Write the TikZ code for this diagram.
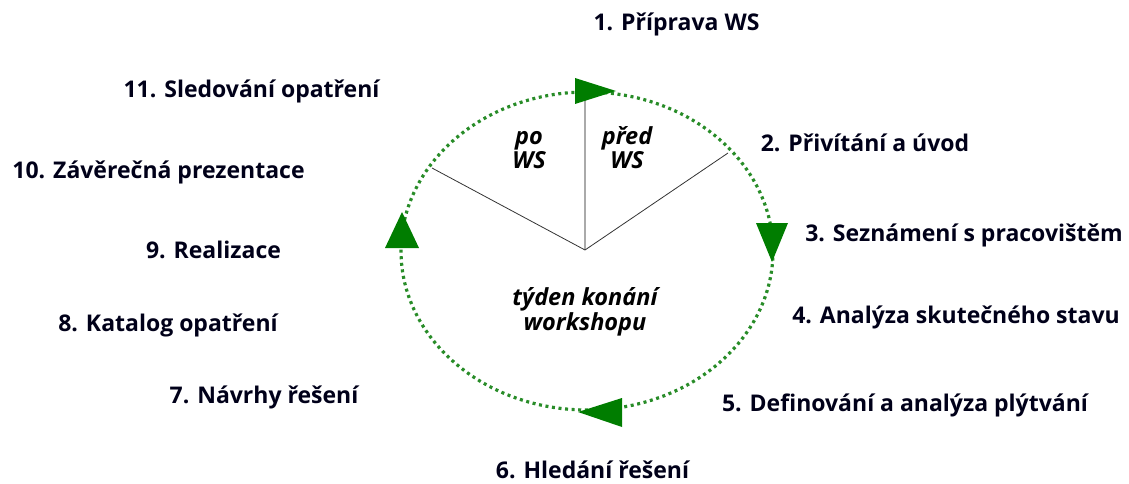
\documentclass[tikz,border=0pt]{standalone}
\usepackage{fontspec}
\setmainfont{Open Sans}
\definecolor{dotgreen}{RGB}{40,140,40}
\definecolor{arrgreen}{RGB}{0,125,0}
\definecolor{spokegray}{RGB}{170,170,170}
\begin{document}
\begin{tikzpicture}[x=1pt,y=-1pt,
  lbl/.style={anchor=base,inner sep=0pt,font=\fontsize{23}{26}\selectfont\bfseries,text=black!90!blue},
  inlbl/.style={anchor=base,inner sep=0pt,align=center,font=\fontsize{23.5}{27}\selectfont\bfseries\itshape},
  ring/.style={draw=dotgreen,line width=3.2pt,dash pattern=on 3pt off 3.6pt},
  tri/.style={fill=arrgreen},
  spoke/.style={draw=black!80,line width=0.8pt}]
\useasboundingbox (0,0) rectangle (1129,484);
% ring
\draw[ring] (587,251) ellipse [x radius=186, y radius=159];
% spokes
\coordinate (c) at (585,250);
\coordinate (top) at (585,100);
\coordinate (l) at (432,168);
\coordinate (r) at (728,153);
\draw[draw=spokegray,line width=2pt] (c) -- (top);
\draw[spoke] (c) -- (l);
\draw[spoke] (c) -- (r);
% arrow heads
\fill[tri] (575,78) -- (616,91) -- (575,104) -- cycle;
\fill[tri] (756,223) -- (788,223) -- (772,262) -- cycle;
\fill[tri] (402,212) -- (419,248) -- (385,248) -- cycle;
\fill[tri] (578,412) -- (622,398) -- (622,427) -- cycle;
% inner labels
\node[inlbl] (po1) at (529,145) {po};
\node[inlbl] (po2) at (529,168) {WS};
\node[inlbl] (pr1) at (627,145) {před};
\node[inlbl] (pr2) at (627,168) {WS};
\node[inlbl] (t1) at (585,305) {týden konání};
\node[inlbl] (t2) at (585,330) {workshopu};
% outer labels
\node[lbl] (s1) at (676.5,31) {1. Příprava WS};
\node[lbl] (s2) at (865,151) {2. Přivítání a úvod};
\node[lbl] (s3) at (964,241) {3. Seznámení s pracovištěm};
\node[lbl] (s4) at (956,323) {4. Analýza skutečného stavu};
\node[lbl] (s5) at (905,411) {5. Definování a analýza plýtvání};
\node[lbl] (s6) at (592.5,478) {6. Hledání řešení};
\node[lbl] (s7) at (264,403) {7. Návrhy řešení};
\node[lbl] (s8) at (168,331) {8. Katalog opatření};
\node[lbl] (s9) at (213.5,258) {9. Realizace};
\node[lbl] (s10) at (158.5,178) {10. Závěrečná prezentace};
\node[lbl] (s11) at (251.5,98) {11. Sledování opatření};
\end{tikzpicture}
\end{document}
